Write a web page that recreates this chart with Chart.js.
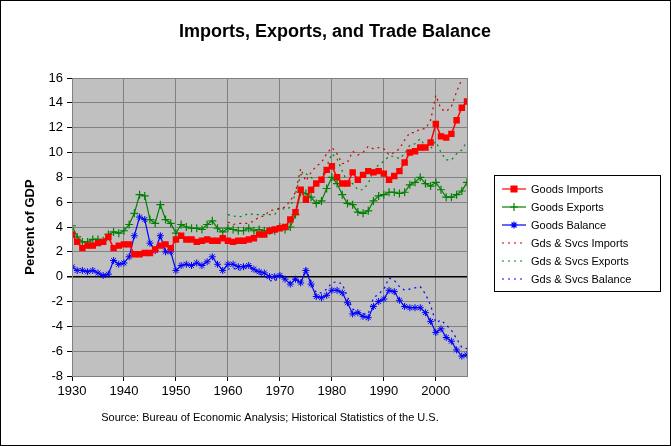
<!DOCTYPE html>
<html><head><meta charset="utf-8">
<script src="https://cdn.jsdelivr.net/npm/chart.js@4"></script>
<style>html,body{margin:0;padding:0;background:#fff}#w{width:671px;height:446px;position:relative}</style>
</head><body><div id="w"><canvas id="c" width="671" height="446"></canvas></div>
<script>
const years = []; for (let y = 1930; y <= 2006; y++) years.push(y);
const gsYears = years.filter(y => y >= 1960);
const goodsImports = [3.4,2.8,2.3,2.5,2.5,2.7,2.8,3.2,2.3,2.5,2.6,2.6,1.8,1.8,1.9,1.9,2.2,2.5,2.6,2.3,3.0,3.3,3.0,3.0,2.8,2.9,3.0,2.9,2.9,3.1,2.9,2.8,2.9,2.9,3.0,3.1,3.4,3.4,3.7,3.8,3.9,4.0,4.6,5.2,7.0,6.2,7.0,7.5,7.8,8.6,8.9,8.0,7.5,7.5,8.4,7.8,8.2,8.5,8.4,8.5,8.3,7.8,8.1,8.5,9.2,10.0,10.1,10.4,10.4,10.8,12.3,11.3,11.2,11.5,12.6,13.6,14.1];
const goodsExports = [4.1,3.2,2.8,2.8,3.0,3.0,2.9,3.4,3.6,3.5,3.7,4.2,5.1,6.6,6.5,4.6,4.3,5.8,4.6,4.3,3.5,4.2,4.0,3.9,3.9,3.8,4.2,4.5,3.9,3.6,3.9,3.8,3.7,3.7,3.9,3.7,3.8,3.7,3.7,3.7,4.0,3.8,4.0,5.0,6.8,6.7,6.4,5.9,6.1,7.1,8.0,7.5,6.6,5.9,5.8,5.2,5.1,5.3,6.1,6.5,6.6,6.8,6.8,6.7,6.8,7.4,7.6,8.0,7.5,7.3,7.6,7.0,6.4,6.4,6.6,6.9,7.6];
const goodsBalance = [0.8,0.5,0.5,0.4,0.5,0.3,0.1,0.2,1.3,1.0,1.1,1.6,3.3,4.8,4.6,2.7,2.1,3.3,2.0,2.0,0.5,0.9,1.0,0.9,1.1,0.9,1.2,1.6,1.0,0.5,1.0,1.0,0.8,0.8,0.9,0.6,0.4,0.3,0.0,0.0,0.1,-0.2,-0.6,-0.2,-0.5,0.5,-0.6,-1.6,-1.7,-1.5,-1.1,-1.1,-1.3,-2.1,-3.0,-2.9,-3.2,-3.3,-2.4,-2.0,-1.8,-1.1,-1.2,-1.9,-2.4,-2.5,-2.5,-2.5,-2.9,-3.6,-4.5,-4.2,-4.9,-5.2,-5.9,-6.4,-6.3];
const gsImports = [4.4,4.2,4.3,4.3,4.3,4.5,4.8,4.9,5.3,5.4,5.5,5.6,6.1,6.8,8.7,7.7,8.4,8.9,9.2,9.9,10.4,9.9,9.1,9.2,10.1,9.8,10.0,10.5,10.3,10.4,10.3,9.8,10.0,10.3,11.0,11.6,11.6,11.9,11.9,12.6,14.6,13.5,13.3,13.7,14.9,15.9,16.4];
const gsExports = [5.0,4.9,4.8,4.9,5.1,5.0,5.0,5.0,5.0,5.0,5.6,5.4,5.6,6.7,8.2,8.3,8.0,7.6,7.9,8.9,9.9,9.5,8.5,7.6,7.5,7.0,7.0,7.5,8.6,9.0,9.3,9.7,9.7,9.5,9.9,10.6,10.7,11.1,10.5,10.3,10.9,10.0,9.4,9.4,9.9,10.2,10.9];
const gsBalance = [0.6,0.7,0.5,0.6,0.8,0.5,0.2,0.1,-0.3,-0.4,0.1,-0.2,-0.5,-0.1,-0.5,0.6,-0.4,-1.3,-1.3,-1.0,-0.5,-0.4,-0.6,-1.6,-2.6,-2.8,-3.0,-3.0,-1.7,-1.4,-1.0,-0.1,-0.3,-0.8,-1.1,-1.0,-0.9,-0.8,-1.4,-2.3,-3.7,-3.5,-3.9,-4.3,-5.0,-5.7,-5.8];
const xTicks = [1930,1940,1950,1960,1970,1980,1990,2000];
const labels = ['Goods Imports','Goods Exports','Goods Balance','Gds & Svcs Imports','Gds & Svcs Exports','Gds & Svcs Balance'];

const pts = (xs, ys) => xs.map((x, i) => ({x, y: ys[i]}));
const RED='#FF0000', GREEN='#008000', BLUE='#0000FF', DRED='#CC0000';
const datasets = [
  {label:labels[0], data:pts(years,goodsImports), borderColor:RED, backgroundColor:RED, borderWidth:1.5, pointStyle:'rect', pointRadius:3.5, order:1},
  {label:labels[1], data:pts(years,goodsExports), borderColor:GREEN, backgroundColor:GREEN, borderWidth:1.2, pointStyle:'cross', pointRadius:4, pointBorderWidth:1.2, order:2},
  {label:labels[2], data:pts(years,goodsBalance), borderColor:BLUE, backgroundColor:BLUE, borderWidth:1.2, pointStyle:'star', pointRadius:3.5, pointBorderWidth:1, order:3},
  {label:labels[3], data:pts(gsYears,gsImports), borderColor:DRED, borderWidth:1.2, borderDash:[2,4], pointRadius:0, order:4},
  {label:labels[4], data:pts(gsYears,gsExports), borderColor:GREEN, borderWidth:1.2, borderDash:[2,4], pointRadius:0, order:5},
  {label:labels[5], data:pts(gsYears,gsBalance), borderColor:BLUE, borderWidth:1.2, borderDash:[2,4], pointRadius:0, order:6},
];
const FONT = '"Liberation Sans", Arial, sans-serif';
const deco = {
  id:'deco',
  beforeDraw(c){
    const ctx=c.ctx, a=c.chartArea;
    ctx.save();
    ctx.fillStyle='#fff'; ctx.fillRect(0,0,c.width,c.height);
    ctx.fillStyle='#C0C0C0'; ctx.fillRect(a.left,a.top,a.right-a.left,a.bottom-a.top);
    ctx.restore();
  },
  afterDraw(c){
    const ctx=c.ctx, a=c.chartArea;
    ctx.save();
    ctx.strokeStyle='#000'; ctx.lineWidth=1;
    ctx.strokeRect(0.5,0.5,c.width-1,c.height-1);
    ctx.strokeStyle='#808080'; ctx.strokeRect(a.left+0.5,a.top+0.5,a.right-a.left,a.bottom-a.top);
    ctx.fillStyle='#000'; ctx.textAlign='center'; ctx.textBaseline='middle';
    ctx.font='bold 18px '+FONT; ctx.fillText('Imports, Exports, and Trade Balance',335,32);
    ctx.font='11px '+FONT; ctx.fillText('Source: Bureau of Economic Analysis; Historical Statistics of the U.S.',270,418);
    ctx.save(); ctx.translate(30,227); ctx.rotate(-Math.PI/2);
    ctx.font='bold 13px '+FONT; ctx.fillText('Percent of GDP',0,0); ctx.restore();
    // legend
    const lx=494, ly=175, lw=166, lh=116;
    ctx.fillStyle='#fff'; ctx.fillRect(lx,ly,lw,lh);
    ctx.strokeStyle='#000'; ctx.strokeRect(lx+0.5,ly+0.5,lw,lh);
    ctx.font='11px '+FONT; ctx.textAlign='left';
    datasets.forEach((d,i)=>{
      const y=ly+14+i*18;
      ctx.save();
      ctx.strokeStyle=d.borderColor; ctx.lineWidth=1.2; ctx.setLineDash(d.borderDash||[]);
      ctx.beginPath(); ctx.moveTo(lx+8,y); ctx.lineTo(lx+32,y); ctx.stroke();
      ctx.setLineDash([]);
      if(d.pointRadius){ ctx.fillStyle=d.borderColor; Chart.helpers.drawPoint(ctx,{pointStyle:d.pointStyle,radius:d.pointRadius,borderWidth:1.2,rotation:0},lx+20,y); if(d.pointStyle==='rect') ctx.fillRect(lx+16.5,y-3.5,7,7);}
      ctx.restore();
      ctx.fillStyle='#000'; ctx.fillText(d.label,lx+37,y+1);
    });
    ctx.restore();
  }
};
new Chart(document.getElementById('c'),{
  type:'line',
  data:{datasets},
  options:{
    responsive:false, animation:false, devicePixelRatio:1,
    layout:{padding:{left:0,top:78,right:204,bottom:0}},
    plugins:{legend:{display:false},tooltip:{enabled:false}},
    elements:{line:{tension:0,fill:false}},
    scales:{
      x:{type:'linear',min:1930,max:2006,
        afterBuildTicks(s){s.ticks=xTicks.map(v=>({value:v}));},
        afterFit(s){s.height=70;},
        grid:{color:'#808080',drawTicks:true,tickLength:5,tickColor:'#000'},
        border:{display:false},
        ticks:{color:'#000',font:{family:FONT,size:13},padding:3,maxRotation:0,callback:v=>String(v)}},
      y:{min:-8,max:16,
        afterFit(s){s.width=72;},
        grid:{color:c=>c.tick.value===0?'#000':'#808080',lineWidth:c=>c.tick.value===0?1.5:1,tickLength:5,tickColor:'#000'},
        border:{display:true,color:'#000'},
        ticks:{stepSize:2,color:'#000',font:{family:FONT,size:13},padding:4}}
    }
  },
  plugins:[deco]
});
</script></body></html>
